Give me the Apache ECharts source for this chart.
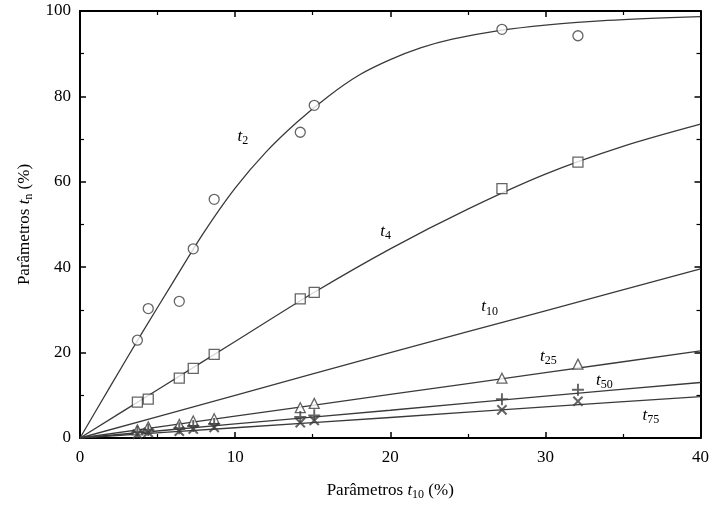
<!DOCTYPE html>
<html><head><meta charset="utf-8">
<script src="https://cdn.jsdelivr.net/npm/echarts@6/dist/echarts.min.js"></script>
<style>html,body{margin:0;padding:0;background:#fff}#c{width:712px;height:506px}</style>
</head><body><div id="c"></div>
<script>
// measured points (shared t10 values)
const pointX = [3.7, 4.4, 6.4, 7.3, 8.65, 14.2, 15.1, 27.2, 32.1];
const t2Pts  = [22.9, 30.3, 32.0, 44.3, 55.9, 71.6, 77.9, 95.7, 94.2];
const t4Pts  = [8.4, 9.1, 14.0, 16.3, 19.6, 32.6, 34.1, 58.4, 64.6];
const t25Pts = [1.9, 2.6, 3.2, 4.0, 4.5, 7.1, 8.1, 14.0, 17.3];
const t50Pts = [1.4, 1.9, 2.3, 2.8, 3.3, 4.9, 5.3, 9.1, 11.3];
const t75Pts = [0.9, 1.3, 1.6, 2.1, 2.5, 3.6, 4.1, 6.6, 8.6];

// fitted curves
const t2CurveX = [0, 2, 4, 6, 8, 10, 12, 14, 16, 18, 20, 22, 24, 27, 30, 34, 40];
const t2Curve  = [0, 12.4, 24.6, 36.5, 48.2, 58.5, 67, 74, 80, 85, 88.6, 91.4, 93.4, 95.4, 96.7, 97.8, 98.7];
const t4CurveX = [0, 5, 10, 15, 20, 25, 30, 35, 40];
const t4Curve  = [0, 11.3, 22.6, 33.9, 44.3, 53.6, 61.8, 68.3, 73.5];
const linX     = [0, 10, 20, 30, 40];
const t10Curve = [0, 10, 20, 29.8, 39.6];
const t25Curve = [0, 5.1, 10.2, 15.3, 20.4];
const t50Curve = [0, 3.3, 6.5, 9.8, 13.0];
const t75Curve = [0, 2.4, 4.8, 7.3, 9.7];

// curve labels
const labelText = ['2', '4', '10', '25', '50', '75'];
const labelX = [10.5, 19.7, 26.4, 30.2, 33.8, 36.8];
const labelY = [70.7, 48.4, 30.7, 19.1, 13.5, 5.3];

const FONT = '"Liberation Serif", "DejaVu Serif", serif';
const LINE = '#3a3a3a';
const MK = '#3f3f3f';
const zip = (xs, ys) => xs.map((x, i) => [x, ys[i]]);
const plusPath = 'path://M4.2,0H5.8V4.2H10V5.8H5.8V10H4.2V5.8H0V4.2H4.2Z';

function curve(xs, ys) {
  return { type: 'line', data: zip(xs, ys), smooth: 0.3, symbol: 'none',
    lineStyle: { color: LINE, width: 1.3 }, z: 2, silent: true };
}
function pts(ys, symbol, size, rot) {
  return { type: 'scatter', data: zip(pointX, ys), symbol: symbol, symbolSize: size,
    symbolRotate: rot || 0,
    itemStyle: symbol.startsWith('path') ? { color: MK } : { color: '#fff', borderColor: MK, borderWidth: 1.3 },
    z: 3, silent: true };
}
const subRich = {
  a: { fontFamily: FONT, fontSize: 17, color: '#000' },
  i: { fontFamily: FONT, fontSize: 17, fontStyle: 'italic', color: '#000' },
  s: { fontFamily: FONT, fontSize: 12, color: '#000', verticalAlign: 'bottom', padding: [0, 0, -2, 0] }
};
function tickAxis(extra) {
  return Object.assign({
    type: 'value',
    axisLine: { show: true, onZero: false, lineStyle: { color: '#000', width: 2 } },
    axisTick: { show: true, inside: true, length: 6, lineStyle: { color: '#000', width: 1.5 } },
    minorTick: { show: true, splitNumber: 2, length: 4, lineStyle: { color: '#000', width: 1.2 } },
    splitLine: { show: false }
  }, extra);
}

const chart = echarts.init(document.getElementById('c'), null, { renderer: 'canvas' });
chart.setOption({
  animation: false,
  backgroundColor: '#fff',
  grid: { left: 80, right: 10, top: 11, bottom: 65 },
  xAxis: [
    tickAxis({ min: 0, max: 40, interval: 10, position: 'bottom',
      axisLabel: { color: '#000', fontFamily: FONT, fontSize: 17, margin: 11 },
      name: '{a|Parâmetros }{i|t}{s|10}{a| (%)}',
      nameLocation: 'middle', nameGap: 44, nameTextStyle: { rich: subRich } }),
    tickAxis({ min: 0, max: 40, interval: 10, position: 'top', axisLabel: { show: false } })
  ],
  yAxis: [
    tickAxis({ min: 0, max: 100, interval: 20, position: 'left',
      axisLabel: { color: '#000', fontFamily: FONT, fontSize: 17, margin: 9 },
      name: '{a|Parâmetros }{i|t}{s|n}{a| (%)}',
      nameLocation: 'middle', nameGap: 47, nameRotate: 90, nameTextStyle: { rich: subRich } }),
    tickAxis({ min: 0, max: 100, interval: 20, position: 'right', axisLabel: { show: false } })
  ],
  series: [
    curve(t2CurveX, t2Curve),
    curve(t4CurveX, t4Curve),
    curve(linX, t10Curve),
    curve(linX, t25Curve),
    curve(linX, t50Curve),
    curve(linX, t75Curve),
    pts(t2Pts, 'circle', 10),
    pts(t4Pts, 'rect', 10),
    pts(t25Pts, 'triangle', 10),
    pts(t50Pts, plusPath, 12),
    pts(t75Pts, plusPath, 13, 45),
    {
      type: 'scatter', symbol: 'circle', symbolSize: 1, silent: true, z: 4,
      itemStyle: { opacity: 0 },
      data: labelX.map((x, i) => ({ value: [x, labelY[i]], name: labelText[i] })),
      label: { show: true, position: 'inside', opacity: 1,
        formatter: p => '{i|t}{s|' + p.name + '}',
        rich: subRich }
    }
  ]
});
</script></body></html>
